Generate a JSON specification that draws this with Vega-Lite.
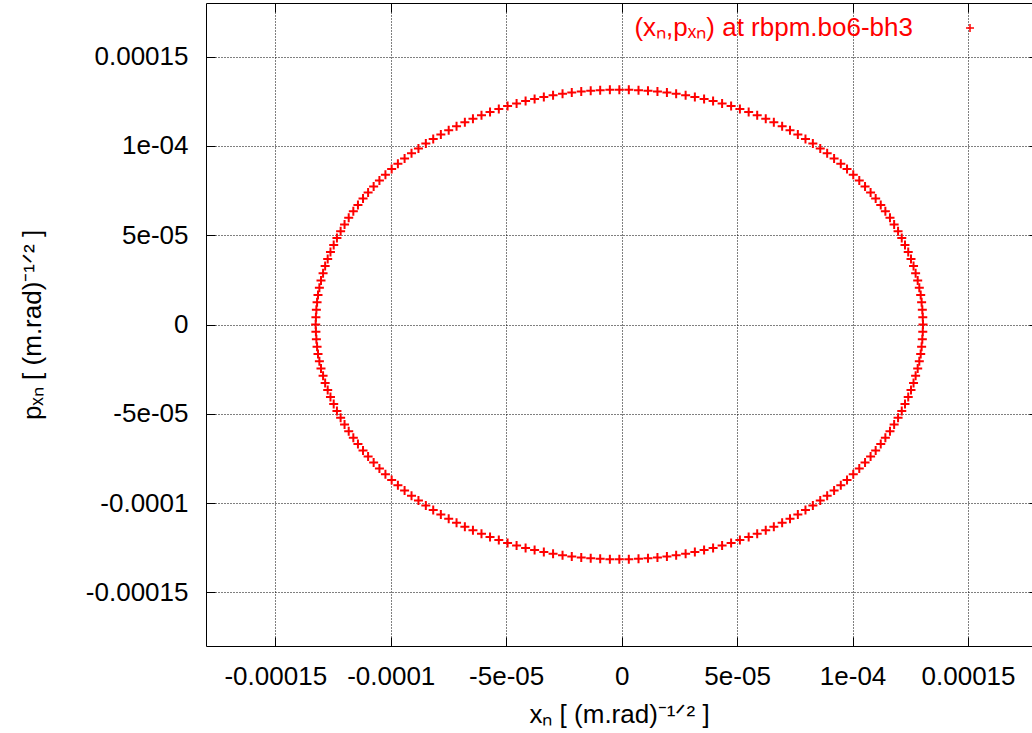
{
  "$schema": "https://vega.github.io/schema/vega-lite/v6.json",
  "width": 826,
  "height": 643,
  "autosize": {"type": "none"},
  "padding": {"left": 206, "top": 3, "right": 0, "bottom": 87},
  "background": "white",
  "config": {
    "font": "Liberation Sans",
    "view": {"stroke": null},
    "axis": {
      "labelFontSize": 26, "labelColor": "#000", "labelFont": "Liberation Sans",
      "titleFontSize": 26, "titleFontWeight": "normal", "titleColor": "#000", "titleFont": "Liberation Sans",
      "domainColor": "#000", "domainWidth": 1, "tickColor": "#000", "tickWidth": 1,
      "gridColor": "#000", "gridDash": [1, 2], "gridWidth": 1, "gridOpacity": 1,
      "labelOverlap": false, "labelFlush": false
    }
  },
  "data": {"values": [
    {"x":130.5e-6,"y":0},{"x":130.4e-6,"y":4.1e-6},{"x":130.2e-6,"y":8.3e-6},{"x":129.9e-6,"y":12.4e-6},{"x":129.5e-6,"y":16.5e-6},
    {"x":128.9e-6,"y":20.6e-6},{"x":128.2e-6,"y":24.6e-6},{"x":127.3e-6,"y":28.7e-6},{"x":126.4e-6,"y":32.7e-6},{"x":125.3e-6,"y":36.7e-6},
    {"x":124.1e-6,"y":40.6e-6},{"x":122.7e-6,"y":44.5e-6},{"x":121.3e-6,"y":48.4e-6},{"x":119.7e-6,"y":52.2e-6},{"x":118.0e-6,"y":56.0e-6},
    {"x":116.2e-6,"y":59.7e-6},{"x":114.2e-6,"y":63.4e-6},{"x":112.2e-6,"y":66.9e-6},{"x":110.0e-6,"y":70.5e-6},{"x":107.8e-6,"y":73.9e-6},
    {"x":105.4e-6,"y":77.3e-6},{"x":102.9e-6,"y":80.6e-6},{"x":100.3e-6,"y":83.8e-6},{"x":97.6e-6,"y":87.0e-6},{"x":94.9e-6,"y":90.0e-6},
    {"x":92.0e-6,"y":93.0e-6},{"x":89.0e-6,"y":95.9e-6},{"x":86.0e-6,"y":98.6e-6},{"x":82.8e-6,"y":101.3e-6},{"x":79.6e-6,"y":103.9e-6},
    {"x":76.3e-6,"y":106.4e-6},{"x":72.9e-6,"y":108.8e-6},{"x":69.5e-6,"y":111.0e-6},{"x":65.9e-6,"y":113.2e-6},{"x":62.4e-6,"y":115.2e-6},
    {"x":58.7e-6,"y":117.2e-6},{"x":55.0e-6,"y":119.0e-6},{"x":51.2e-6,"y":120.7e-6},{"x":47.4e-6,"y":122.3e-6},{"x":43.5e-6,"y":123.7e-6},
    {"x":39.6e-6,"y":125.1e-6},{"x":35.7e-6,"y":126.3e-6},{"x":31.7e-6,"y":127.4e-6},{"x":27.7e-6,"y":128.3e-6},{"x":23.6e-6,"y":129.2e-6},
    {"x":19.6e-6,"y":129.9e-6},{"x":15.5e-6,"y":130.5e-6},{"x":11.4e-6,"y":130.9e-6},{"x":7.3e-6,"y":131.2e-6},{"x":3.1e-6,"y":131.4e-6},
    {"x":-1.0e-6,"y":131.5e-6},{"x":-5.1e-6,"y":131.4e-6},{"x":-9.3e-6,"y":131.2e-6},{"x":-13.4e-6,"y":130.9e-6},{"x":-17.5e-6,"y":130.5e-6},
    {"x":-21.6e-6,"y":129.9e-6},{"x":-25.6e-6,"y":129.2e-6},{"x":-29.7e-6,"y":128.3e-6},{"x":-33.7e-6,"y":127.4e-6},{"x":-37.7e-6,"y":126.3e-6},
    {"x":-41.6e-6,"y":125.1e-6},{"x":-45.5e-6,"y":123.7e-6},{"x":-49.4e-6,"y":122.3e-6},{"x":-53.2e-6,"y":120.7e-6},{"x":-57.0e-6,"y":119.0e-6},
    {"x":-60.7e-6,"y":117.2e-6},{"x":-64.4e-6,"y":115.2e-6},{"x":-67.9e-6,"y":113.2e-6},{"x":-71.5e-6,"y":111.0e-6},{"x":-74.9e-6,"y":108.8e-6},
    {"x":-78.3e-6,"y":106.4e-6},{"x":-81.6e-6,"y":103.9e-6},{"x":-84.8e-6,"y":101.3e-6},{"x":-88.0e-6,"y":98.6e-6},{"x":-91.0e-6,"y":95.9e-6},
    {"x":-94.0e-6,"y":93.0e-6},{"x":-96.9e-6,"y":90.0e-6},{"x":-99.6e-6,"y":87.0e-6},{"x":-102.3e-6,"y":83.8e-6},{"x":-104.9e-6,"y":80.6e-6},
    {"x":-107.4e-6,"y":77.3e-6},{"x":-109.8e-6,"y":73.9e-6},{"x":-112.0e-6,"y":70.5e-6},{"x":-114.2e-6,"y":66.9e-6},{"x":-116.2e-6,"y":63.4e-6},
    {"x":-118.2e-6,"y":59.7e-6},{"x":-120.0e-6,"y":56.0e-6},{"x":-121.7e-6,"y":52.2e-6},{"x":-123.3e-6,"y":48.4e-6},{"x":-124.7e-6,"y":44.5e-6},
    {"x":-126.1e-6,"y":40.6e-6},{"x":-127.3e-6,"y":36.7e-6},{"x":-128.4e-6,"y":32.7e-6},{"x":-129.3e-6,"y":28.7e-6},{"x":-130.2e-6,"y":24.6e-6},
    {"x":-130.9e-6,"y":20.6e-6},{"x":-131.5e-6,"y":16.5e-6},{"x":-131.9e-6,"y":12.4e-6},{"x":-132.2e-6,"y":8.3e-6},{"x":-132.4e-6,"y":4.1e-6},
    {"x":-132.5e-6,"y":0},{"x":-132.4e-6,"y":-4.1e-6},{"x":-132.2e-6,"y":-8.3e-6},{"x":-131.9e-6,"y":-12.4e-6},{"x":-131.5e-6,"y":-16.5e-6},
    {"x":-130.9e-6,"y":-20.6e-6},{"x":-130.2e-6,"y":-24.6e-6},{"x":-129.3e-6,"y":-28.7e-6},{"x":-128.4e-6,"y":-32.7e-6},{"x":-127.3e-6,"y":-36.7e-6},
    {"x":-126.1e-6,"y":-40.6e-6},{"x":-124.7e-6,"y":-44.5e-6},{"x":-123.3e-6,"y":-48.4e-6},{"x":-121.7e-6,"y":-52.2e-6},{"x":-120.0e-6,"y":-56.0e-6},
    {"x":-118.2e-6,"y":-59.7e-6},{"x":-116.2e-6,"y":-63.4e-6},{"x":-114.2e-6,"y":-66.9e-6},{"x":-112.0e-6,"y":-70.5e-6},{"x":-109.8e-6,"y":-73.9e-6},
    {"x":-107.4e-6,"y":-77.3e-6},{"x":-104.9e-6,"y":-80.6e-6},{"x":-102.3e-6,"y":-83.8e-6},{"x":-99.6e-6,"y":-87.0e-6},{"x":-96.9e-6,"y":-90.0e-6},
    {"x":-94.0e-6,"y":-93.0e-6},{"x":-91.0e-6,"y":-95.9e-6},{"x":-88.0e-6,"y":-98.6e-6},{"x":-84.8e-6,"y":-101.3e-6},{"x":-81.6e-6,"y":-103.9e-6},
    {"x":-78.3e-6,"y":-106.4e-6},{"x":-74.9e-6,"y":-108.8e-6},{"x":-71.5e-6,"y":-111.0e-6},{"x":-67.9e-6,"y":-113.2e-6},{"x":-64.4e-6,"y":-115.2e-6},
    {"x":-60.7e-6,"y":-117.2e-6},{"x":-57.0e-6,"y":-119.0e-6},{"x":-53.2e-6,"y":-120.7e-6},{"x":-49.4e-6,"y":-122.3e-6},{"x":-45.5e-6,"y":-123.7e-6},
    {"x":-41.6e-6,"y":-125.1e-6},{"x":-37.7e-6,"y":-126.3e-6},{"x":-33.7e-6,"y":-127.4e-6},{"x":-29.7e-6,"y":-128.3e-6},{"x":-25.6e-6,"y":-129.2e-6},
    {"x":-21.6e-6,"y":-129.9e-6},{"x":-17.5e-6,"y":-130.5e-6},{"x":-13.4e-6,"y":-130.9e-6},{"x":-9.3e-6,"y":-131.2e-6},{"x":-5.1e-6,"y":-131.4e-6},
    {"x":-1.0e-6,"y":-131.5e-6},{"x":3.1e-6,"y":-131.4e-6},{"x":7.3e-6,"y":-131.2e-6},{"x":11.4e-6,"y":-130.9e-6},{"x":15.5e-6,"y":-130.5e-6},
    {"x":19.6e-6,"y":-129.9e-6},{"x":23.6e-6,"y":-129.2e-6},{"x":27.7e-6,"y":-128.3e-6},{"x":31.7e-6,"y":-127.4e-6},{"x":35.7e-6,"y":-126.3e-6},
    {"x":39.6e-6,"y":-125.1e-6},{"x":43.5e-6,"y":-123.7e-6},{"x":47.4e-6,"y":-122.3e-6},{"x":51.2e-6,"y":-120.7e-6},{"x":55.0e-6,"y":-119.0e-6},
    {"x":58.7e-6,"y":-117.2e-6},{"x":62.4e-6,"y":-115.2e-6},{"x":65.9e-6,"y":-113.2e-6},{"x":69.5e-6,"y":-111.0e-6},{"x":72.9e-6,"y":-108.8e-6},
    {"x":76.3e-6,"y":-106.4e-6},{"x":79.6e-6,"y":-103.9e-6},{"x":82.8e-6,"y":-101.3e-6},{"x":86.0e-6,"y":-98.6e-6},{"x":89.0e-6,"y":-95.9e-6},
    {"x":92.0e-6,"y":-93.0e-6},{"x":94.9e-6,"y":-90.0e-6},{"x":97.6e-6,"y":-87.0e-6},{"x":100.3e-6,"y":-83.8e-6},{"x":102.9e-6,"y":-80.6e-6},
    {"x":105.4e-6,"y":-77.3e-6},{"x":107.8e-6,"y":-73.9e-6},{"x":110.0e-6,"y":-70.5e-6},{"x":112.2e-6,"y":-66.9e-6},{"x":114.2e-6,"y":-63.4e-6},
    {"x":116.2e-6,"y":-59.7e-6},{"x":118.0e-6,"y":-56.0e-6},{"x":119.7e-6,"y":-52.2e-6},{"x":121.3e-6,"y":-48.4e-6},{"x":122.7e-6,"y":-44.5e-6},
    {"x":124.1e-6,"y":-40.6e-6},{"x":125.3e-6,"y":-36.7e-6},{"x":126.4e-6,"y":-32.7e-6},{"x":127.3e-6,"y":-28.7e-6},{"x":128.2e-6,"y":-24.6e-6},
    {"x":128.9e-6,"y":-20.6e-6},{"x":129.5e-6,"y":-16.5e-6},{"x":129.9e-6,"y":-12.4e-6},{"x":130.2e-6,"y":-8.3e-6},{"x":130.4e-6,"y":-4.1e-6}
  ]},
  "layer": [
    {
      "mark": {"type": "point", "shape": "M-1,0H1M0,-1V1", "filled": false, "size": 81, "strokeWidth": 2, "opacity": 1},
      "encoding": {
        "x": {
          "field": "x", "type": "quantitative",
          "scale": {"domain": [-0.00018, 0.0001777], "nice": false, "zero": false},
          "axis": {
            "orient": "bottom",
            "values": [-0.00015, -0.0001, -0.00005, 0, 0.00005, 0.0001, 0.00015],
            "labelExpr": "abs(datum.value) < 1e-9 ? '0' : abs(datum.value - 0.0001) < 1e-9 ? '1e-04' : abs(datum.value + 0.0001) < 1e-9 ? '-0.0001' : abs(datum.value - 0.00005) < 1e-9 ? '5e-05' : abs(datum.value + 0.00005) < 1e-9 ? '-5e-05' : abs(datum.value - 0.00015) < 1e-9 ? '0.00015' : '-0.00015'",
            "tickSize": -9, "labelPadding": 26, "grid": true,
            "title": "xₙ [ (m.rad)⁻¹ᐟ² ]", "titlePadding": 12
          }
        },
        "y": {
          "field": "y", "type": "quantitative",
          "scale": {"domain": [-0.00018, 0.00018], "nice": false, "zero": false},
          "axis": {
            "orient": "left",
            "values": [-0.00015, -0.0001, -0.00005, 0, 0.00005, 0.0001, 0.00015],
            "labelExpr": "abs(datum.value) < 1e-9 ? '0' : abs(datum.value - 0.0001) < 1e-9 ? '1e-04' : abs(datum.value + 0.0001) < 1e-9 ? '-0.0001' : abs(datum.value - 0.00005) < 1e-9 ? '5e-05' : abs(datum.value + 0.00005) < 1e-9 ? '-5e-05' : abs(datum.value - 0.00015) < 1e-9 ? '0.00015' : '-0.00015'",
            "tickSize": -9, "labelPadding": 27, "grid": true,
            "title": "pₓₙ [ (m.rad)⁻¹ᐟ² ]", "titlePadding": 40
          }
        },
        "color": {
          "datum": "(xₙ,pₓₙ) at rbpm.bo6-bh3", "type": "nominal",
          "scale": {"range": ["#ff0000"]},
          "legend": {
            "orient": "none", "legendX": 751, "legendY": 12, "title": null, "padding": 0,
            "labelFontSize": 26, "labelColor": "#ff0000", "labelFont": "Liberation Sans",
            "labelAlign": "right", "labelOffset": -70, "labelLimit": 600,
            "symbolType": "M-1,0H1M0,-1V1", "symbolSize": 64, "symbolStrokeWidth": 1.5,
            "symbolStrokeColor": "#ff0000", "symbolFillColor": "transparent"
          }
        }
      }
    },
    {
      "mark": {"type": "point", "opacity": 0},
      "encoding": {
        "x": {
          "field": "x", "type": "quantitative",
          "scale": {"domain": [-0.00018, 0.0001777], "nice": false, "zero": false},
          "axis": {"orient": "top", "values": [-0.00015, -0.0001, -0.00005, 0, 0.00005, 0.0001, 0.00015], "labels": false, "grid": false, "tickSize": -9, "title": null}
        },
        "y": {
          "field": "y", "type": "quantitative",
          "scale": {"domain": [-0.00018, 0.00018], "nice": false, "zero": false},
          "axis": {"orient": "right", "values": [-0.00015, -0.0001, -0.00005, 0, 0.00005, 0.0001, 0.00015], "labels": false, "grid": false, "domain": false, "tickSize": -3, "title": null}
        }
      }
    }
  ],
  "resolve": {"axis": {"x": "independent", "y": "independent"}}
}
